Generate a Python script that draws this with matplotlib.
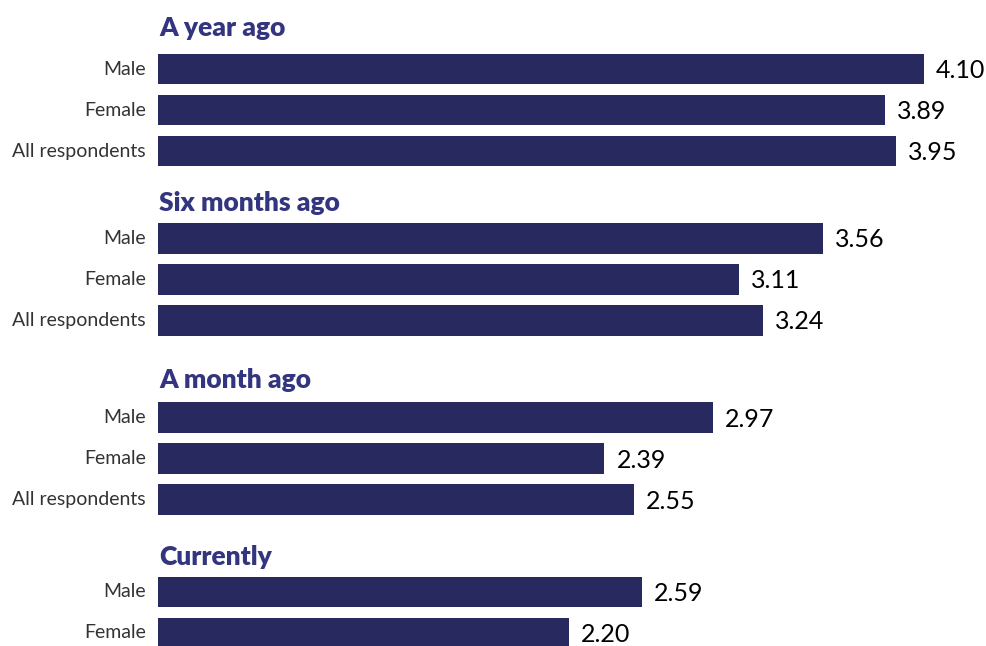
import numpy as np
import matplotlib.pyplot as plt

plt.rcParams['font.family'] = ['Lato', 'DejaVu Sans']

groups = ['A year ago', 'Six months ago', 'A month ago', 'Currently']
categories = ['Male', 'Female', 'All respondents']
year_ago = [4.10, 3.89, 3.95]
six_months_ago = [3.56, 3.11, 3.24]
month_ago = [2.97, 2.39, 2.55]
currently = [2.59, 2.20]
group_values = [year_ago, six_months_ago, month_ago, currently]

bar_color = '#282a5f'
title_color = '#33357f'

fig = plt.figure(figsize=(9.87, 6.46), dpi=100)
ax = fig.add_axes([0, 0, 1, 1])

# one row = 41 px; x=0 sits at 158 px, 1 unit ~ 186.8 px
px_per_unit = 186.8
ax.set_xlim(-158 / px_per_unit, (987 - 158) / px_per_unit)
ax.set_ylim(646 / 41, 0)

first_row = 69 / 41
group_offsets = [0, 4.13, 8.5, 12.75]
title_gaps = [1.0, 0.85, 0.92, 0.85]

for g, (name, vals) in enumerate(zip(groups, group_values)):
    y0 = first_row + group_offsets[g]
    ys = y0 + np.arange(len(vals))
    ax.barh(ys, vals, height=0.74, color=bar_color)
    ax.text(0.005, y0 - title_gaps[g], name, fontsize=19, fontweight='heavy',
            color=title_color, ha='left', va='center')
    for y, v, cat in zip(ys, vals, categories):
        ax.text(-12 / px_per_unit, y, cat, fontsize=14, color='#333333',
                ha='right', va='center')
        ax.text(v + 12 / px_per_unit, y + 0.04, f'{v:.2f}', fontsize=18,
                color='black', ha='left', va='center')

ax.axis('off')
fig.savefig('out.png', dpi=100)
